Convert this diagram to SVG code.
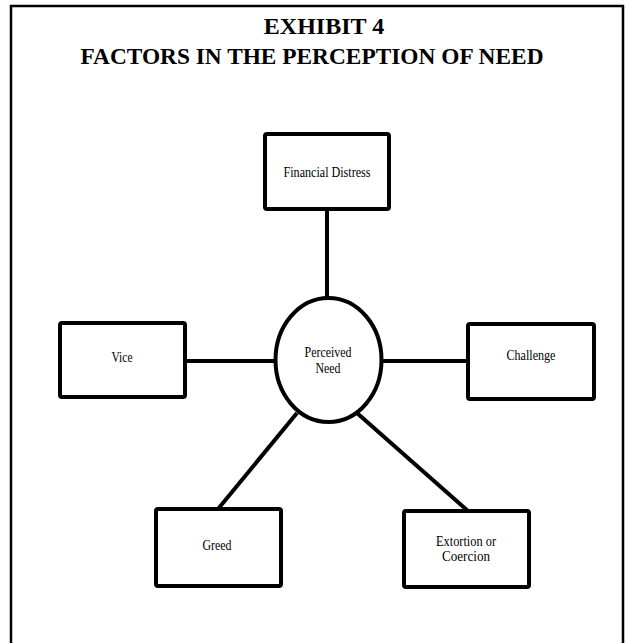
<svg xmlns="http://www.w3.org/2000/svg" width="631" height="643" viewBox="0 0 631 643">
<style>
.frame{fill:none;stroke:#000;stroke-width:2.5}
.box{fill:#fff;stroke:#000;stroke-width:4}
.con{stroke:#000;stroke-width:4;fill:none}
.t{font-family:"Liberation Serif","Times New Roman",serif;font-size:15px;fill:#000;text-anchor:middle}
.h{font-family:"Liberation Serif","Times New Roman",serif;font-size:24px;font-weight:bold;fill:#000;text-anchor:middle}
</style>
<rect width="631" height="643" fill="#fff"/>
<path class="frame" d="M11,643 V6 H623 V643"/>
<g id="title">
<text class="h" x="324" y="34">EXHIBIT 4</text>
<text class="h" x="312" y="64" textLength="463" lengthAdjust="spacingAndGlyphs">FACTORS IN THE PERCEPTION OF NEED</text>
</g>
<g id="connectors">
<line class="con" x1="327" y1="209" x2="327" y2="298"/>
<line class="con" x1="185" y1="361" x2="275" y2="361"/>
<line class="con" x1="382" y1="361" x2="468" y2="361"/>
<line class="con" x1="297" y1="413" x2="218" y2="509"/>
<line class="con" x1="357" y1="413" x2="468" y2="511"/>
</g>
<g id="financial-distress">
<rect class="box" x="265" y="134" width="124" height="75" rx="2"/>
<text class="t" x="327" y="177" textLength="87" lengthAdjust="spacingAndGlyphs">Financial Distress</text>
</g>
<g id="perceived-need">
<ellipse class="box" cx="328.5" cy="360" rx="53" ry="62"/>
<text class="t" x="328" y="357" textLength="47" lengthAdjust="spacingAndGlyphs">Perceived</text>
<text class="t" x="328" y="373" textLength="25" lengthAdjust="spacingAndGlyphs">Need</text>
</g>
<g id="vice">
<rect class="box" x="60" y="323" width="125" height="74" rx="2"/>
<text class="t" x="122" y="362" textLength="21" lengthAdjust="spacingAndGlyphs">Vice</text>
</g>
<g id="challenge">
<rect class="box" x="468" y="324" width="126" height="75" rx="2"/>
<text class="t" x="531" y="360" textLength="49" lengthAdjust="spacingAndGlyphs">Challenge</text>
</g>
<g id="greed">
<rect class="box" x="156" y="509" width="125" height="77" rx="2"/>
<text class="t" x="217" y="550" textLength="29" lengthAdjust="spacingAndGlyphs">Greed</text>
</g>
<g id="extortion">
<rect class="box" x="404" y="511" width="125" height="76" rx="2"/>
<text class="t" x="466" y="546" textLength="60" lengthAdjust="spacingAndGlyphs">Extortion or</text>
<text class="t" x="466" y="561" textLength="48" lengthAdjust="spacingAndGlyphs">Coercion</text>
</g>
</svg>
